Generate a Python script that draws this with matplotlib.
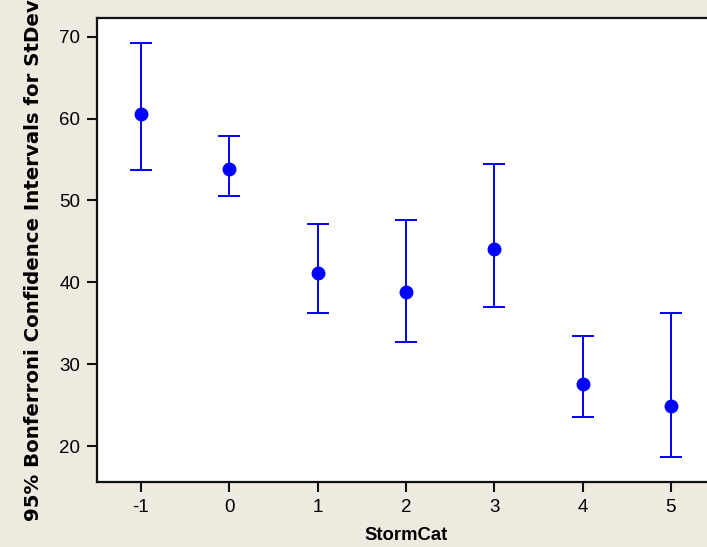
import numpy as np
import matplotlib
matplotlib.use("Agg")
from matplotlib import pyplot as plt

plt.rcParams["axes.unicode_minus"] = False

# StDev estimates and 95% Bonferroni intervals, by storm category
storm_cat = [-1, 0, 1, 2, 3, 4, 5]
stdev = [60.6, 53.8, 41.1, 38.8, 44.1, 27.6, 24.9]
lower = [53.7, 50.5, 36.3, 32.7, 37.0, 23.5, 18.6]
upper = [69.3, 57.9, 47.1, 47.6, 54.5, 33.4, 36.3]

bg = "#eeeae0"
blue = "#0000ff"

fig = plt.figure(figsize=(7.07, 5.47), dpi=100, facecolor=bg)
ax = fig.add_axes([0.1368, 0.1188, 0.8745, 0.8483])
ax.set_facecolor("white")

x = np.array(storm_cat)
y = np.array(stdev)
err = [y - np.array(lower), np.array(upper) - y]
ax.errorbar(x, y, yerr=err, fmt="o", color=blue, ecolor=blue,
            markersize=9, elinewidth=1.4, capsize=8, capthick=1.4)

ax.set_xlim(-1.5, 5.5)
ax.set_ylim(15.6, 72.3)
ax.set_xticks(storm_cat)
ax.set_yticks([20, 30, 40, 50, 60, 70])

for s in ax.spines.values():
    s.set_linewidth(1.6)
    s.set_color("#111111")
ax.tick_params(direction="out", length=7, width=1.5, color="#111111",
               labelsize=13.5, pad=5)
for lab in ax.get_xticklabels() + ax.get_yticklabels():
    lab.set_family("Liberation Sans")

ax.set_xlabel("StormCat", fontsize=13.3, fontweight="bold",
              family="Liberation Sans", labelpad=8)

# y label runs past the top edge, as in the reference (figure is cropped)
fig.text(0.047, (547 - 521) / 547, "95% Bonferroni Confidence Intervals for StDevs",
         rotation=90, ha="center", va="bottom", fontsize=14.2,
         fontweight="bold", family="DejaVu Sans")

fig.savefig("out.png", dpi=100, facecolor=bg)
